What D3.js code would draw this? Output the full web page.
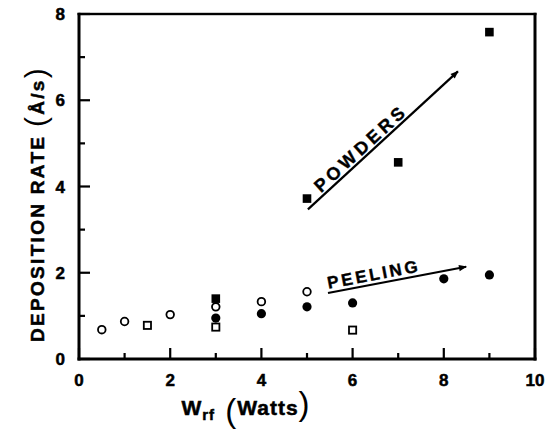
<!DOCTYPE html>
<html>
<head>
<meta charset="UTF-8">
<script src="https://d3js.org/d3.v7.min.js"></script>
<style>
  body { margin: 0; background: #fff; }
  svg { display: block; font-family: "Liberation Sans", Arial, sans-serif; font-weight: bold; }
</style>
</head>
<body>
<svg id="chart" width="552" height="429"></svg>
<script>
// valeurs
const openCircles = [[0.5, 0.68], [1, 0.87], [2, 1.03], [3, 1.21], [4, 1.33], [5, 1.56]];
const openSquares = [[1.5, 0.78], [3, 0.74], [6, 0.67]];
const filledCircles = [[3, 0.95], [4, 1.05], [5, 1.21], [6, 1.30], [8, 1.86], [9, 1.95]];
const filledSquares = [[3, 1.40], [5, 3.72], [7, 4.56], [9, 7.58]];

const powdersArrow = [[5.02, 3.47], [8.31, 6.67]];
const peelingArrow = [[5.46, 1.53], [8.49, 2.14]];

const xTicks = [0, 2, 4, 6, 8, 10];
const yTicks = [0, 2, 4, 6, 8];
const xMinorTicks = [1, 3, 5, 7, 9];
const yMinorTicks = [1, 3, 5, 7];

const svg = d3.select("#chart");
const margin = { top: 14, right: 17, bottom: 70, left: 79 };
const width = +svg.attr("width");
const height = +svg.attr("height");

const x = d3.scaleLinear().domain([0, 10]).range([margin.left, width - margin.right]);
const y = d3.scaleLinear().domain([0, 8]).range([height - margin.bottom, margin.top]);

const defs = svg.append("defs");
defs.append("marker")
  .attr("id", "head")
  .attr("viewBox", "0 0 10 10")
  .attr("refX", 9).attr("refY", 5)
  .attr("markerWidth", 11).attr("markerHeight", 8)
  .attr("markerUnits", "userSpaceOnUse")
  .attr("orient", "auto")
  .append("path").attr("d", "M0,1 L10,5 L0,9 Z").attr("fill", "#000");

const x0 = x(0), x1 = x(10), yb = y(0), yt = y(8);

// cadre : bandes pleines
const frameBars = [
  { x: x0 - 1.5, y: yb - 1.5, w: x1 - x0 + 3, h: 3 },
  { x: x0 - 1.5, y: yt - 1.2, w: x1 - x0 + 3, h: 2.4 },
  { x: x0 - 1.5, y: yt - 1.2, w: 3, h: yb - yt + 2.7 },
  { x: x1 - 1.5, y: yt - 1.2, w: 3, h: yb - yt + 2.7 }
];
svg.append("g").selectAll("rect").data(frameBars).join("rect")
  .attr("x", d => d.x).attr("y", d => d.y)
  .attr("width", d => d.w).attr("height", d => d.h)
  .attr("fill", "#000");

// graduations vers l'intérieur
svg.append("g").selectAll("rect").data(xTicks.concat(xMinorTicks)).join("rect")
  .attr("x", d => x(d) - 1.1)
  .attr("y", d => yb - (xTicks.includes(d) ? 11 : 6))
  .attr("width", 2.2)
  .attr("height", d => (xTicks.includes(d) ? 11 : 6))
  .attr("fill", "#000");
svg.append("g").selectAll("rect").data(yTicks.concat(yMinorTicks)).join("rect")
  .attr("x", x0)
  .attr("y", d => y(d) - 1.1)
  .attr("width", d => (yTicks.includes(d) ? 11 : 6))
  .attr("height", 2.2)
  .attr("fill", "#000");

// étiquettes des graduations
svg.append("g").selectAll("text").data(xTicks).join("text")
  .attr("x", d => x(d)).attr("y", yb + 27)
  .attr("text-anchor", "middle")
  .attr("font-size", 17).attr("stroke", "#000").attr("stroke-width", 0.5)
  .text(d => d);
svg.append("g").selectAll("text").data(yTicks).join("text")
  .attr("x", x0 - 14).attr("y", d => y(d)).attr("dy", "0.36em")
  .attr("text-anchor", "end")
  .attr("font-size", 17).attr("stroke", "#000").attr("stroke-width", 0.5)
  .text(d => d);

// points
svg.append("g").selectAll("circle").data(openCircles).join("circle")
  .attr("cx", d => x(d[0])).attr("cy", d => y(d[1])).attr("r", 3.8)
  .attr("fill", "#fff").attr("stroke", "#000").attr("stroke-width", 1.8);
svg.append("g").selectAll("circle").data(filledCircles).join("circle")
  .attr("cx", d => x(d[0])).attr("cy", d => y(d[1])).attr("r", 4.6)
  .attr("fill", "#000");
svg.append("g").selectAll("rect").data(openSquares).join("rect")
  .attr("x", d => x(d[0]) - 3.6).attr("y", d => y(d[1]) - 3.6)
  .attr("width", 7.2).attr("height", 7.2)
  .attr("fill", "#fff").attr("stroke", "#000").attr("stroke-width", 1.8);
svg.append("g").selectAll("rect").data(filledSquares).join("rect")
  .attr("x", d => x(d[0]) - 4.3).attr("y", d => y(d[1]) - 4.3)
  .attr("width", 8.6).attr("height", 8.6)
  .attr("fill", "#000");

// flèches annotées
function annotate(pts, label, fontSize, spacing, offset, startFrac) {
  const [p0, p1] = pts.map(p => [x(p[0]), y(p[1])]);
  svg.append("line")
    .attr("x1", p0[0]).attr("y1", p0[1]).attr("x2", p1[0]).attr("y2", p1[1])
    .attr("stroke", "#000").attr("stroke-width", 2.2)
    .attr("marker-end", "url(#head)");
  const ang = Math.atan2(p1[1] - p0[1], p1[0] - p0[0]) * 180 / Math.PI;
  const len = Math.hypot(p1[0] - p0[0], p1[1] - p0[1]);
  svg.append("text")
    .attr("transform", `translate(${p0[0]},${p0[1]}) rotate(${ang})`)
    .attr("x", len * startFrac).attr("y", -offset)
    .attr("font-size", fontSize).attr("letter-spacing", spacing)
    .attr("stroke", "#000").attr("stroke-width", 0.4)
    .text(label);
}
annotate(powdersArrow, "POWDERS", 18, 3.8, 3, 0.1);
annotate(peelingArrow, "PEELING", 17, 2.8, 4, 0.01);

// titres des axes
const yLab = svg.append("text")
  .attr("transform", `translate(44,${204}) rotate(-90)`)
  .attr("text-anchor", "middle")
  .attr("font-size", 19).attr("letter-spacing", 2.3)
  .attr("stroke", "#000").attr("stroke-width", 0.5);
yLab.append("tspan").text("DEPOSITION RATE ");
yLab.append("tspan").attr("font-size", 30).attr("font-weight", "normal").attr("stroke-width", 0).attr("dy", 2).text("(");
yLab.append("tspan").attr("dy", -2).text("Å/s");
yLab.append("tspan").attr("font-size", 30).attr("font-weight", "normal").attr("stroke-width", 0).attr("dy", 2).text(")");

const xLab = svg.append("text")
  .attr("x", 246).attr("y", 415)
  .attr("text-anchor", "middle")
  .attr("font-size", 21).attr("letter-spacing", 1)
  .attr("stroke", "#000").attr("stroke-width", 0.5);
xLab.append("tspan").text("W");
xLab.append("tspan").attr("font-size", 15).attr("dy", 5).text("rf");
xLab.append("tspan").attr("font-size", 33).attr("font-weight", "normal").attr("stroke-width", 0).attr("dy", 2).text(" (");
xLab.append("tspan").attr("dy", -7).text("Watts");
xLab.append("tspan").attr("font-size", 33).attr("font-weight", "normal").attr("stroke-width", 0).attr("dy", 0).text(")");
</script>
</body>
</html>
